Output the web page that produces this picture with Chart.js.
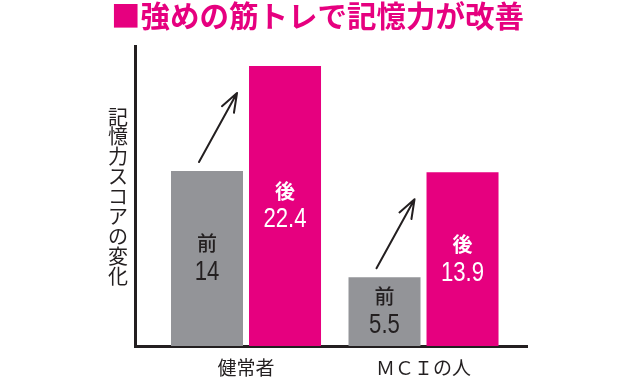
<!DOCTYPE html>
<html lang="ja">
<head>
<meta charset="utf-8">
<script src="https://cdn.jsdelivr.net/npm/chart.js@4.4.1/dist/chart.umd.min.js"></script>
<style>
  html, body { margin: 0; padding: 0; background: #fff; }
  #wrap { width: 630px; height: 381px; position: relative; }
</style>
</head>
<body>
<div id="wrap"><canvas id="chart"></canvas></div>
<script>
const categories = ['健常者', 'ＭＣＩの人'];
const seriesNames = ['前', '後'];
const beforeValues = [14, 5.5];
const afterValues = [22.4, 13.9];
const chartTitle = '■強めの筋トレで記憶力が改善';
const yTitle = '記憶力スコアの変化';

const PINK = 'rgb(230, 0, 127)';
const GRAY = 'rgb(147, 148, 152)';
const INK = '#231f20';
const CJK = '"Noto Sans CJK JP", "Noto Sans", sans-serif';
const NUM = '"Liberation Sans", Arial, sans-serif';

// vertical y-axis title, one upright character per line
const verticalTitle = {
    id: 'verticalTitle',
    afterDraw(chart) {
        const ctx = chart.ctx;
        ctx.save();
        ctx.fillStyle = INK;
        ctx.font = '20px ' + CJK;
        ctx.textAlign = 'center';
        ctx.textBaseline = 'middle';
        Array.from(yTitle).forEach((ch, i) => {
            ctx.fillText(ch, chart.chartArea.left - 17, 117 + i * 19.9);
        });
        ctx.restore();
    }
};

// name + value inside each bar, centred vertically
const barLabels = {
    id: 'barLabels',
    afterDatasetsDraw(chart) {
        const ctx = chart.ctx;
        chart.data.datasets.forEach((ds, di) => {
            const meta = chart.getDatasetMeta(di);
            meta.data.forEach((bar, i) => {
                const mid = (bar.y + bar.base) / 2;
                ctx.save();
                ctx.fillStyle = di === 0 ? INK : '#fff';
                ctx.textAlign = 'center';
                ctx.textBaseline = 'middle';
                ctx.font = (di === 0 ? '500 ' : 'bold ') + '20px ' + CJK;
                ctx.fillText(seriesNames[di], bar.x, mid - 15);
                // condensed numerals
                ctx.translate(bar.x, mid + 14);
                ctx.scale(0.82, 1);
                ctx.font = '27px ' + NUM;
                ctx.fillText(String(ds.data[i].y), 0, 0);
                ctx.restore();
            });
        });
    }
};

// arrows from the "before" bar towards the "after" bar
const arrows = {
    id: 'arrows',
    afterDatasetsDraw(chart) {
        const ctx = chart.ctx;
        const before = chart.getDatasetMeta(0).data;
        const after = chart.getDatasetMeta(1).data;
        before.forEach((b, i) => {
            const a = after[i];
            const x0 = b.x - 8, y0 = b.y - 9;
            const x1 = a.x - a.width / 2 - 12, y1 = a.y + 27;
            const ang = Math.atan2(y1 - y0, x1 - x0);
            const head = 20, spread = 20 * Math.PI / 180;
            ctx.save();
            ctx.strokeStyle = INK;
            ctx.lineWidth = 2;
            ctx.lineCap = 'round';
            ctx.lineJoin = 'round';
            ctx.beginPath();
            ctx.moveTo(x0, y0);
            ctx.lineTo(x1, y1);
            ctx.moveTo(x1 - head * Math.cos(ang - spread), y1 - head * Math.sin(ang - spread));
            ctx.lineTo(x1, y1);
            ctx.lineTo(x1 - head * Math.cos(ang + spread), y1 - head * Math.sin(ang + spread));
            ctx.stroke();
            ctx.restore();
        });
    }
};

const toPoints = vals => vals.map((v, i) => ({ x: i, y: v }));

new Chart(document.getElementById('chart'), {
    type: 'bar',
    data: {
        datasets: [
            {
                label: seriesNames[0],
                data: toPoints(beforeValues),
                backgroundColor: GRAY
            },
            {
                label: seriesNames[1],
                data: toPoints(afterValues),
                backgroundColor: PINK
            }
        ]
    },
    options: {
        responsive: true,
        maintainAspectRatio: false,
        animation: false,
        categoryPercentage: 0.879,
        barPercentage: 0.923,
        layout: {
            padding: { left: 111, right: 103, top: 0, bottom: 0 }
        },
        plugins: {
            legend: { display: false },
            tooltip: { enabled: false },
            title: {
                display: true,
                text: chartTitle,
                align: 'start',
                color: PINK,
                font: { family: CJK, size: 29.5, weight: 'bold', lineHeight: 1 },
                padding: { top: 1.5, bottom: 15 }
            }
        },
        scales: {
            x: {
                type: 'linear',
                offset: false,
                bounds: 'data',
                min: -0.6254,
                max: 1.583,
                grid: { display: false, drawTicks: false, offset: false },
                border: { display: true, color: INK, width: 3 },
                afterBuildTicks: (scale) => {
                    scale.ticks = categories.map((c, i) => ({ value: i }));
                },
                afterFit: (scale) => { scale.height = 35; },
                ticks: {
                    padding: 10,
                    color: INK,
                    font: { family: CJK, size: 19 },
                    autoSkip: false,
                    maxRotation: 0,
                    callback: (value) => categories[value]
                }
            },
            y: {
                min: 0,
                max: 24,
                grid: { display: false, drawTicks: false },
                border: { display: true, color: INK, width: 3 },
                ticks: { display: false },
                afterFit: (scale) => { scale.width = 24; }
            }
        }
    },
    plugins: [barLabels, arrows, verticalTitle]
});
</script>
</body>
</html>
